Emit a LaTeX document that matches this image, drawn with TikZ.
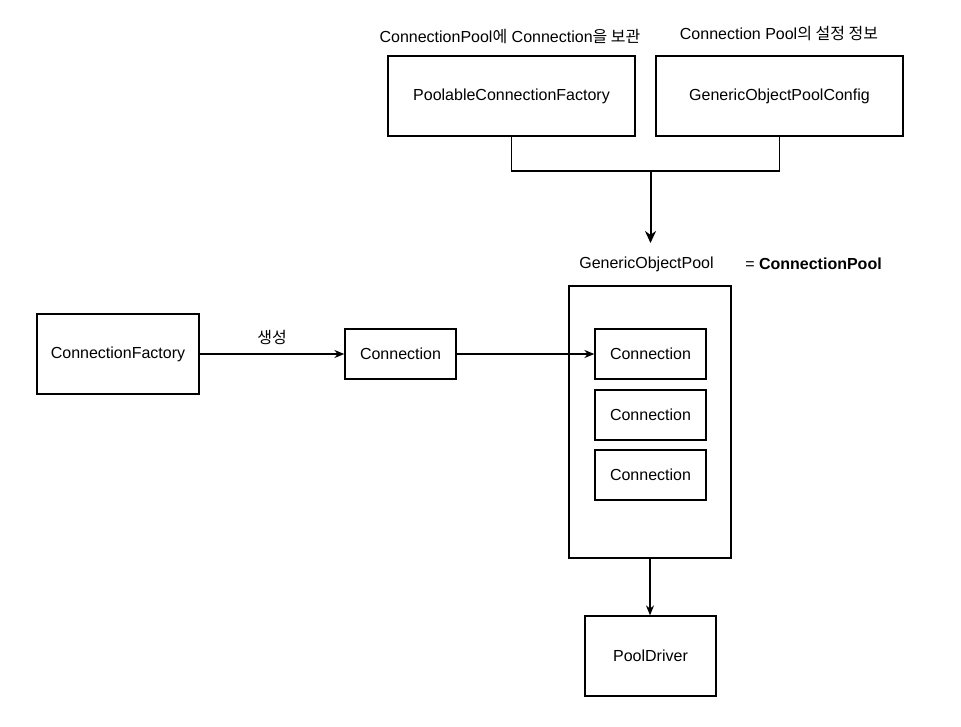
\documentclass[tikz,border=0pt]{standalone}
\usepackage{fontspec}
\setmainfont{Liberation Sans}
\newfontfamily\krfont{Noto Sans CJK KR}
\newcommand{\kr}[1]{{\krfont #1}}
\usetikzlibrary{arrows.meta}
\begin{document}
\begin{tikzpicture}[x=1pt,y=-1pt,
  every node/.style={font=\fontsize{16}{19}\selectfont},
  box/.style={draw,line width=1.3pt,inner sep=0pt},
  lbl/.style={inner sep=0pt},
  arr/.style={line width=1.3pt,-{Stealth[length=10pt,width=8pt]}},
  bigarr/.style={line width=2pt,-{Stealth[length=12pt,width=11pt]}},
  ln/.style={line width=1.3pt}]
\useasboundingbox (0,0) rectangle (961,726);
\node[box,minimum width=247pt,minimum height=80pt] (plcf) at (511.5,96) {PoolableConnectionFactory};
\node[box,minimum width=247pt,minimum height=80pt] (gopc) at (779.5,96) {GenericObjectPoolConfig};
\node[lbl] (t1) at (510,37) {ConnectionPool\kr{에} Connection\kr{을 보관}};
\node[lbl] (t2) at (779,34) {Connection Pool\kr{의 설정 정보}};
\coordinate (j) at (650.5,171);
\coordinate (jend) at (650.5,243);
\draw[ln] (plcf.south) |- (j) -| (gopc.south);
\draw[bigarr] (j) -- (jend);
\node[lbl] (gopl) at (646.5,264) {GenericObjectPool};
\node[lbl] (eqcp) at (813.5,264) {= \textbf{ConnectionPool}};
\node[box,minimum width=162pt,minimum height=272pt] (pool) at (650,422) {};
\node[box,minimum width=111pt,minimum height=50pt] (c1) at (650.5,354) {Connection};
\node[box,minimum width=111pt,minimum height=50pt] (c2) at (650.5,415) {Connection};
\node[box,minimum width=111pt,minimum height=50pt] (c3) at (650.5,475) {Connection};
\node[box,minimum width=162pt,minimum height=80pt] (cf) at (118,354) {ConnectionFactory};
\node[box,minimum width=111pt,minimum height=50pt] (conn) at (400.5,354) {Connection};
\node[box,minimum width=131pt,minimum height=80pt] (pd) at (650.5,656) {PoolDriver};
\draw[arr] (cf.east) -- node[lbl,above=9pt] (gen) {\kr{생성}} (conn.west);
\draw[arr] (conn.east) -- (c1.west);
\draw[arr] (pool.south) -- (pool.south |- pd.north);
\end{tikzpicture}
\end{document}
